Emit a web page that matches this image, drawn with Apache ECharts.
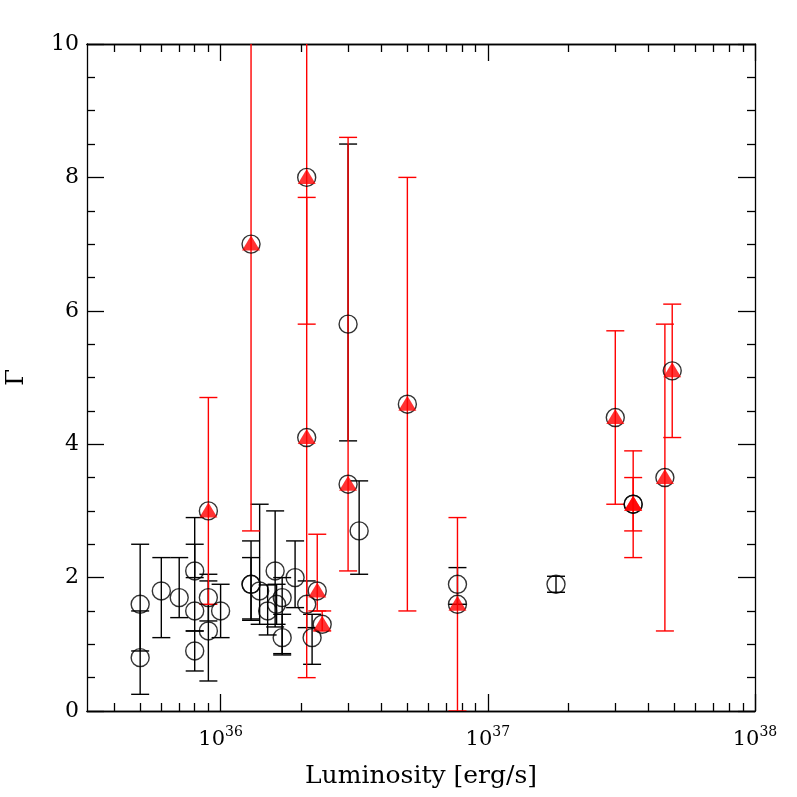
<!DOCTYPE html>
<html>
<head>
<meta charset="utf-8">
<script src="https://cdn.jsdelivr.net/npm/echarts@6/dist/echarts.min.js"></script>
<style>html,body{margin:0;padding:0;background:#fff}#c{width:797px;height:797px}</style>
</head>
<body>
<div id="c"></div>
<script>
// Luminosity in units of 1e36 erg/s
const lumBlack = [0.5,0.5,0.6,0.7,0.8,0.8,0.8,0.9,0.9,1.0,1.3,1.3,1.4,1.5,1.6,1.62,1.7,1.7,1.9,2.1,2.2,3.0,3.3,7.7,18];
const gamBlack = [1.6,0.8,1.8,1.7,2.1,1.5,0.9,1.7,1.2,1.5,1.9,1.9,1.8,1.5,2.1,1.6,1.7,1.1,2.0,1.6,1.1,5.8,2.7,1.9,1.9];
const loBlack  = [0.9,0.25,1.1,1.4,2.0,1.2,0.6,1.35,0.45,1.1,1.38,1.36,1.3,1.14,1.26,1.3,0.86,0.84,1.55,1.25,0.7,4.05,2.05,1.6,1.78];
const hiBlack  = [2.5,1.5,2.3,2.3,2.9,2.5,1.2,2.05,1.95,1.9,2.55,2.3,3.1,1.89,3.0,1.9,2.0,1.45,2.55,1.95,1.45,8.5,3.45,2.15,2.02];

const lumRed = [0.9,1.3,2.1,2.1,2.3,2.4,3.0,5.0,7.7,30,35,35,46,49];
const gamRed = [3.0,7.0,8.0,4.1,1.8,1.3,3.4,4.6,1.6,4.4,3.1,3.1,3.5,5.1];
const loRed  = [1.6,2.7,5.8,0.5,1.5,1.2,2.1,1.5,0,3.1,2.7,2.3,1.2,4.1];
const hiRed  = [4.7,12,12,7.7,2.65,1.5,8.6,8.0,2.9,5.7,3.5,3.9,5.8,6.1];

const xMajorTicks = [36, 37, 38];
const yTickLabels = [0, 2, 4, 6, 8, 10];

const FONT = 'DejaVu Serif';
const toLog = v => 36 + Math.log10(v);

const minorX = [];
for (let n = 35; n <= 37; n++) {
  for (let k = 2; k <= 9; k++) {
    const v = n + Math.log10(k);
    if (v >= 35.5 && v <= 38) minorX.push(v);
  }
}

function errRender(color) {
  return function (params, api) {
    const x = api.value(0), y0 = api.value(2), y1 = api.value(3);
    const p0 = api.coord([x, y0]), p1 = api.coord([x, y1]);
    const w = 9;
    const style = { stroke: color, lineWidth: 1.4, fill: null };
    return {
      type: 'group',
      children: [
        { type: 'line', shape: { x1: p0[0], y1: p0[1], x2: p1[0], y2: p1[1] }, style: style },
        { type: 'line', shape: { x1: p0[0] - w, y1: p0[1], x2: p0[0] + w, y2: p0[1] }, style: style },
        { type: 'line', shape: { x1: p1[0] - w, y1: p1[1], x2: p1[0] + w, y2: p1[1] }, style: style }
      ]
    };
  };
}

const blackErr = lumBlack.map((l, i) => [toLog(l), gamBlack[i], loBlack[i], hiBlack[i]]);
const redErr = lumRed.map((l, i) => [toLog(l), gamRed[i], loRed[i], hiRed[i]]);
const circles = lumBlack.map((l, i) => [toLog(l), gamBlack[i]])
  .concat(lumRed.map((l, i) => [toLog(l), gamRed[i]]));
const triangles = lumRed.map((l, i) => [toLog(l), gamRed[i]]);

const lineStyle = { color: '#000', width: 1.3 };
function xAx(pos, ticks, len, labels) {
  const a = {
    type: 'value', gridIndex: 0, position: pos, min: 35.5, max: 38,
    splitLine: { show: false },
    axisLine: { show: true, onZero: false, lineStyle: lineStyle },
    axisTick: { show: true, inside: true, length: len, customValues: ticks, lineStyle: lineStyle },
    axisLabel: { show: false }
  };
  if (labels) {
    a.axisLabel = {
      show: true, customValues: xMajorTicks, margin: 14,
      formatter: v => '{a|10}{s|' + Math.round(v) + '}',
      rich: {
        a: { fontFamily: FONT, fontSize: 21, color: '#000' },
        s: { fontFamily: FONT, fontSize: 14, color: '#000', padding: [0, 0, 16, 0] }
      }
    };
    a.name = 'Luminosity [erg/s]';
    a.nameLocation = 'middle';
    a.nameGap = 53;
    a.nameTextStyle = { fontFamily: FONT, fontSize: 25, color: '#000' };
  }
  return a;
}
function yAx(pos, labels) {
  const a = {
    type: 'value', gridIndex: 0, position: pos, min: 0, max: 10, interval: 2,
    splitLine: { show: false },
    axisLine: { show: true, lineStyle: lineStyle },
    axisTick: { show: true, inside: true, length: 17, lineStyle: lineStyle },
    minorTick: { show: true, splitNumber: 4, length: 8, lineStyle: lineStyle },
    axisLabel: { show: false }
  };
  if (labels) {
    a.axisLabel = { show: true, margin: 8, fontFamily: FONT, fontSize: 22, color: '#000',
      formatter: v => (yTickLabels.indexOf(v) >= 0 ? String(v) : '') };
    a.name = 'Γ';
    a.nameLocation = 'middle';
    a.nameGap = 58;
    a.nameRotate = 90;
    a.nameTextStyle = { fontFamily: FONT, fontSize: 24, color: '#000' };
  }
  return a;
}

const option = {
  animation: false,
  backgroundColor: '#fff',
  grid: { left: 87, right: 42, top: 44, bottom: 86, containLabel: false, outerBoundsMode: 'none' },
  xAxis: [
    xAx('bottom', xMajorTicks, 17, true),
    xAx('bottom', minorX, 8, false),
    xAx('top', xMajorTicks, 17, false),
    xAx('top', minorX, 8, false)
  ],
  yAxis: [yAx('left', true), yAx('right', false)],
  series: [
    { type: 'custom', xAxisIndex: 0, yAxisIndex: 0, clip: true, renderItem: errRender('#000'),
      data: blackErr, encode: { x: 0, y: 1 }, z: 2 },
    { type: 'custom', xAxisIndex: 0, yAxisIndex: 0, clip: true, renderItem: errRender('#ff0000'),
      data: redErr, encode: { x: 0, y: 1 }, z: 3 },
    { type: 'scatter', xAxisIndex: 0, yAxisIndex: 0, symbol: 'circle', symbolSize: 18,
      itemStyle: { color: 'rgba(0,0,0,0)', borderColor: '#000', borderWidth: 1.4 },
      data: circles, z: 4 },
    { type: 'scatter', xAxisIndex: 0, yAxisIndex: 0, symbol: 'triangle', symbolSize: [18, 15],
      symbolOffset: [0, -1],
      itemStyle: { color: '#ff0000' }, data: triangles, z: 5 }
  ]
};
echarts.init(document.getElementById('c')).setOption(option);
</script>
</body>
</html>
